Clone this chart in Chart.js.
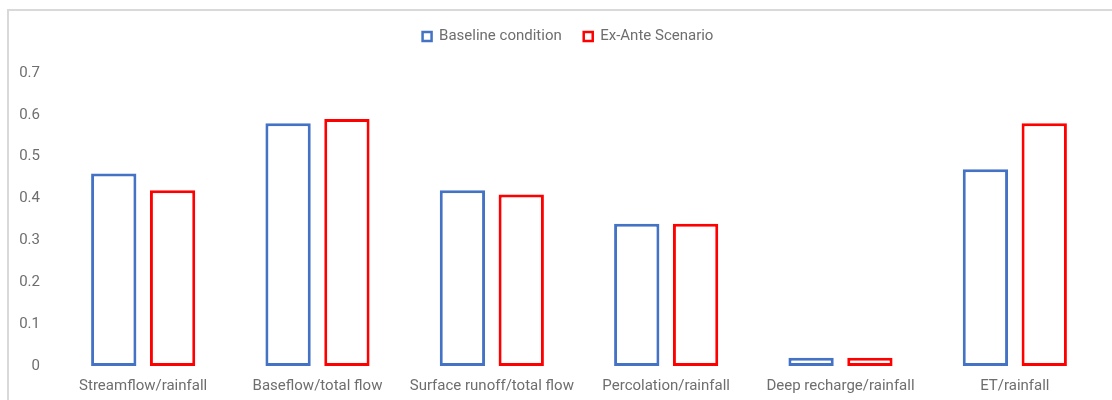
<!DOCTYPE html>
<html>
<head>
<meta charset="utf-8">
<script src="https://cdn.jsdelivr.net/npm/chart.js@4"></script>
<style>
  html, body { margin: 0; padding: 0; background: #ffffff; }
  #wrap { position: relative; width: 1112px; height: 400px; overflow: hidden; }
  #frame {
    position: absolute; left: 7px; top: 9px; width: 1200px; height: 500px;
    border-left: 2px solid #d9d9d9; border-top: 2px solid #d9d9d9;
  }
  #chart { position: absolute; left: 0; top: 0; }
</style>
</head>
<body>
<div id="wrap">
  <div id="frame"></div>
  <canvas id="chart" width="1112" height="400"></canvas>
</div>
<script>
// Water balance ratios per component
const categories = [
  'Streamflow/rainfall',
  'Baseflow/total flow',
  'Surface runoff/total flow',
  'Percolation/rainfall',
  'Deep recharge/rainfall',
  'ET/rainfall'
];
const baselineCondition = [0.46, 0.58, 0.42, 0.34, 0.02, 0.47];
const exAnteScenario = [0.42, 0.59, 0.41, 0.34, 0.02, 0.58];
const seriesNames = ['Baseline condition', 'Ex-Ante Scenario'];
const yMin = 0, yMax = 0.7, yStep = 0.1;

const FONT = 'Roboto, "Liberation Sans", sans-serif';
const TEXT = '#6e6e6e';

// Extra room between the legend row and the plot, and centre the legend over the plot area
const legendPlacement = {
  id: 'legendPlacement',
  beforeInit(chart) {
    const origFit = chart.legend.fit;
    chart.legend.fit = function () {
      origFit.call(this);
      this.height += 19;
    };
  },
  afterLayout(chart) {
    chart.legend.left += 17;
    chart.legend.right += 17;
  }
};

new Chart(document.getElementById('chart'), {
  type: 'bar',
  data: {
    labels: categories,
    datasets: [
      {
        label: seriesNames[0],
        data: baselineCondition,
        backgroundColor: '#ffffff',
        borderColor: '#4472C4',
        borderWidth: 3,
        borderSkipped: false
      },
      {
        label: seriesNames[1],
        data: exAnteScenario,
        backgroundColor: '#ffffff',
        borderColor: '#FF0000',
        borderWidth: 3,
        borderSkipped: false
      }
    ]
  },
  options: {
    responsive: false,
    animation: false,
    devicePixelRatio: 1,
    layout: { padding: { top: 7, left: 0, right: 10, bottom: 0 } },
    datasets: {
      bar: { categoryPercentage: 0.675, barPercentage: 0.77 }
    },
    plugins: {
      tooltip: { enabled: false },
      legend: {
        position: 'top',
        align: 'center',
        labels: {
          color: TEXT,
          font: { family: FONT, size: 15 },
          boxWidth: 9,
          boxHeight: 9,
          padding: 22,
          generateLabels(chart) {
            const items = Chart.defaults.plugins.legend.labels.generateLabels(chart);
            items.forEach(it => { it.lineWidth = 2.5; });
            return items;
          }
        }
      }
    },
    scales: {
      x: {
        grid: { display: false },
        border: { display: false },
        ticks: {
          color: TEXT,
          font: { family: FONT, size: 15 },
          padding: 3,
          maxRotation: 0,
          autoSkip: false
        },
        afterFit(scale) { scale.height = 34; }
      },
      y: {
        min: yMin,
        max: yMax,
        grid: { display: false },
        border: { display: false },
        ticks: {
          stepSize: yStep,
          color: TEXT,
          font: { family: FONT, size: 15 },
          padding: 8,
          callback: v => Number(v.toFixed(1)).toString()
        },
        afterFit(scale) { scale.width = 56; }
      }
    }
  },
  plugins: [legendPlacement]
});
</script>
</body>
</html>
